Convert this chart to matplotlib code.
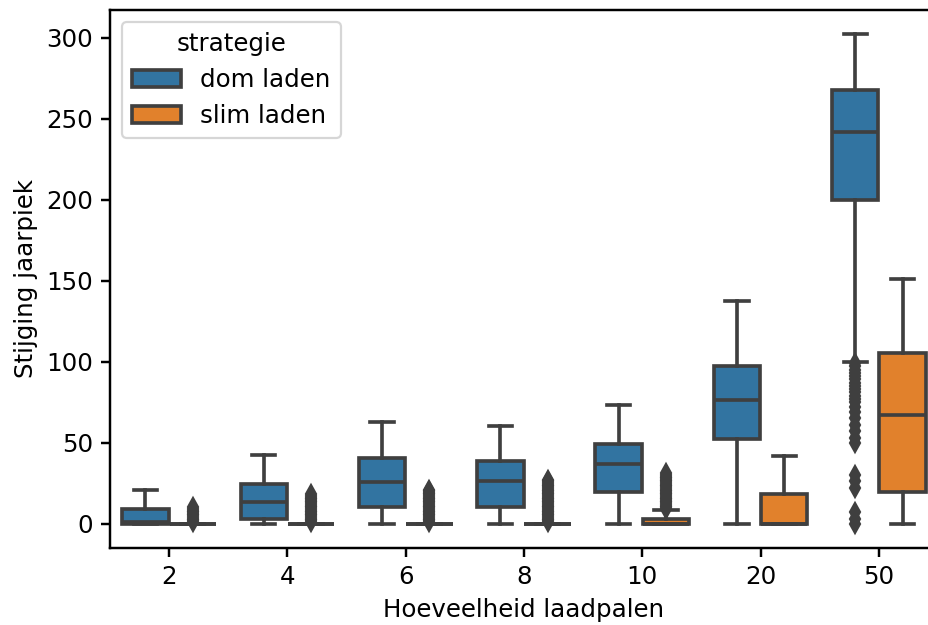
import matplotlib
matplotlib.use("Agg")
import matplotlib.pyplot as plt
from matplotlib.patches import Patch

# aantal laadpalen per scenario
laadpalen = ["2", "4", "6", "8", "10", "20", "50"]
strategieen = ["dom laden", "slim laden"]

# samenvatting per boxplot: (whisker laag, q1, mediaan, q3, whisker hoog)
dom_stats = [
    (0, 0, 1, 9, 20.5),
    (0, 2.5, 13.5, 24.5, 42.5),
    (0, 10.5, 25.5, 40.5, 62.5),
    (0, 10.5, 26, 38.5, 60),
    (0, 19.5, 36.5, 49, 73),
    (0, 52, 76.5, 97.5, 137.5),
    (100, 200, 241.5, 268, 302),
]
slim_stats = [
    (0, 0, 0, 0, 0),
    (0, 0, 0, 0, 0),
    (0, 0, 0, 0, 0),
    (0, 0, 0, 0, 0),
    (0, 0, 0, 3, 8.5),
    (0, 0, 0, 18.5, 41.5),
    (0, 19.5, 67, 105.5, 151),
]

# uitschieters
dom_fliers = [
    [], [], [], [], [], [],
    [0, 3, 7, 22, 26, 30, 50, 53, 57, 61, 65, 69, 72, 75, 77, 79, 81, 83,
     85, 87, 89, 91, 93, 95, 97, 99],
]
slim_fliers = [
    [1, 2, 3, 4, 5, 6, 7, 8, 9, 10],
    [1, 2, 3, 4, 5, 6, 7, 8, 9, 10, 11, 12, 13, 14, 15, 16, 17, 18],
    [1, 2, 3, 4, 5, 6, 7, 8, 9, 10, 11, 12, 13, 14, 15, 16, 17, 18, 19,
     20, 21],
    [1, 2, 3, 4, 5, 6, 7, 8, 9, 10, 11, 12, 13, 14, 15, 16, 17, 18, 19,
     20, 21, 22, 23, 24, 25, 26, 27],
    [9, 10, 11, 12, 13, 14, 15, 16, 17, 18, 19, 20, 21, 22, 23, 24, 25,
     26, 27, 28, 29, 30, 31],
    [],
    [],
]

kleuren = ["#3274a1", "#e1812c"]
grijs = "#3f3f3f"
lw = 1.65

plt.rcParams["font.size"] = 11


def maak_stats(stats, fliers):
    out = []
    for (lo, q1, med, q3, hi), fl in zip(stats, fliers):
        out.append({"whislo": lo, "q1": q1, "med": med, "q3": q3,
                    "whishi": hi, "fliers": fl})
    return out


fig = plt.figure(figsize=(928 / 160, 625 / 160), dpi=160)
ax = fig.add_axes([110 / 928, 77 / 625, 828 / 928, 538 / 625])

for j, (stats, fliers) in enumerate([(dom_stats, dom_fliers),
                                      (slim_stats, slim_fliers)]):
    offset = -0.2 if j == 0 else 0.2
    posities = [i + offset for i in range(len(laadpalen))]
    ax.bxp(maak_stats(stats, fliers), positions=posities, widths=0.392,
           patch_artist=True, manage_ticks=False,
           boxprops=dict(facecolor=kleuren[j], edgecolor=grijs, linewidth=lw),
           whiskerprops=dict(color=grijs, linewidth=lw),
           capprops=dict(color=grijs, linewidth=lw),
           medianprops=dict(color=grijs, linewidth=lw),
           flierprops=dict(marker="d", markerfacecolor=grijs,
                           markeredgecolor=grijs, markersize=5.5,
                           linestyle="none"))

ax.set_xticks(range(len(laadpalen)))
ax.set_xticklabels(laadpalen)
ax.set_xlim(-0.5, len(laadpalen) - 0.5)
ax.set_ylim(-15.1, 317.1)
ax.tick_params(width=1.1, length=4)
for spine in ax.spines.values():
    spine.set_linewidth(1.1)
ax.set_xlabel("Hoeveelheid laadpalen")
ax.set_ylabel("Stijging jaarpiek")

handles = [Patch(facecolor=kleuren[k], edgecolor=grijs, linewidth=lw,
                 label=strategieen[k]) for k in range(2)]
ax.legend(handles=handles, title="strategie", loc="upper left")

fig.savefig("out.png", dpi=160)
